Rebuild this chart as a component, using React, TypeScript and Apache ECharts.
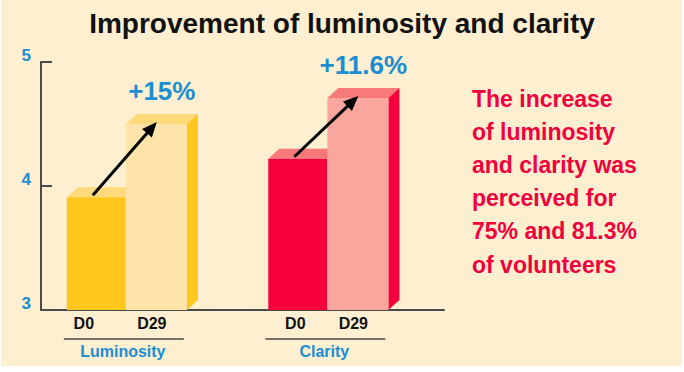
import React, { useEffect, useRef } from "react";
import * as echarts from "echarts";

const groups = ["Luminosity", "Clarity"];
const timepoints = ["D0", "D29"];
const d0Scores = [3.91, 4.22];
const d29Scores = [4.5, 4.71];
const changeLabels = ["+15%", "+11.6%"];
const yMin = 3;
const yMax = 5;
const yStep = 1;
const titleText = "Improvement of luminosity and clarity";
const noteLines = [
  "The increase",
  "of luminosity",
  "and clarity was",
  "perceived for",
  "75% and 81.3%",
  "of volunteers",
];

const FONT = "'Liberation Sans', Arial, sans-serif";
const BLUE = "#1B8DD1";
const AXIS = "#4a4a4a";
const palettes = [
  { front0: "#FFC61E", top: "#FFD97A", front1: "#FEE4A8", side: "#FFC61E" },
  { front0: "#F5003C", top: "#F87A78", front1: "#F9A69E", side: "#F5003C" },
];
const d0LabelShift = [-42, -32];

function txt(text: string, x: number, y: number, size: number, color: string) {
  return {
    type: "text",
    style: {
      text,
      x,
      y,
      align: "center",
      verticalAlign: "middle",
      textAlign: "center",
      textVerticalAlign: "middle",
      fontSize: size,
      fontWeight: "bold",
      fontFamily: FONT,
      fill: color,
    },
  };
}

export default function App() {
  const ref = useRef<HTMLDivElement>(null);
  useEffect(() => {
    if (!ref.current) return;
    const chart = echarts.init(ref.current, undefined, { renderer: "svg" });
    const data = groups.map((g, i) => [i, d0Scores[i], d29Scores[i]]);
    const renderItem = (params: any, api: any) => {
      const i = api.value(0);
      const v0 = api.value(1);
      const v1 = api.value(2);
      const p0 = api.coord([i, v0]);
      const p1 = api.coord([i, v1]);
      const base = api.coord([i, yMin])[1];
      const bw = api.size([1, 0])[0];
      const gx = p0[0] - bw * 0.079;
      const w0 = bw * 0.293;
      const w1 = bw * 0.303;
      const dx = 11;
      const dy = 10;
      const c = palettes[i];
      const y0 = p0[1];
      const y1 = p1[1];
      const children: any[] = [];
      // D0 bar
      children.push({
        type: "polygon",
        shape: { points: [[gx - w0, y0], [gx - w0 + dx, y0 - dy], [gx + dx, y0 - dy], [gx, y0]] },
        style: { fill: c.top },
      });
      children.push({ type: "rect", shape: { x: gx - w0, y: y0, width: w0, height: base - y0 }, style: { fill: c.front0 } });
      // D29 bar
      children.push({
        type: "polygon",
        shape: { points: [[gx, y1], [gx + dx, y1 - dy], [gx + w1 + dx, y1 - dy], [gx + w1, y1]] },
        style: { fill: c.top },
      });
      children.push({
        type: "polygon",
        shape: { points: [[gx + w1, y1], [gx + w1 + dx, y1 - dy], [gx + w1 + dx, base - dy], [gx + w1, base]] },
        style: { fill: c.side },
      });
      children.push({ type: "rect", shape: { x: gx, y: y1, width: w1, height: base - y1 }, style: { fill: c.front1 } });
      // arrow
      const sx = gx - 33, sy = y0 - 2;
      const ex = gx + 31, ey = y1 - 2;
      const len = Math.hypot(ex - sx, ey - sy);
      const ux = (ex - sx) / len, uy = (ey - sy) / len;
      const hl = 15, hw = 6.5;
      const bx = ex - ux * hl, by = ey - uy * hl;
      children.push({
        type: "line",
        shape: { x1: sx, y1: sy, x2: bx + ux * 2, y2: by + uy * 2 },
        style: { stroke: "#000", lineWidth: 3 },
      });
      children.push({
        type: "polygon",
        shape: { points: [[ex, ey], [bx - uy * hw, by + ux * hw], [bx + uy * hw, by - ux * hw]] },
        style: { fill: "#000" },
      });
      // change label
      children.push(txt(changeLabels[i], gx + 36, y1 - 33, 26, BLUE));
      // x labels
      children.push(txt(timepoints[0], gx + d0LabelShift[i], base + 13, 16, "#111"));
      children.push(txt(timepoints[1], gx + 26, base + 13, 16, "#111"));
      children.push({
        type: "line",
        shape: { x1: gx - 62, y1: base + 29, x2: gx + 58, y2: base + 29 },
        style: { stroke: AXIS, lineWidth: 1.5 },
      });
      children.push(txt(groups[i], gx - 3, base + 41, 16, BLUE));
      return { type: "group", children };
    };
    chart.setOption({
      animation: false,
      backgroundColor: "#ffffff",
      title: {
        text: titleText,
        left: "center",
        top: 4,
        textStyle: { fontSize: 28, fontWeight: "bold", color: "#111", fontFamily: FONT },
      },
      graphic: [
        {
          type: "rect",
          z: -100,
          silent: true,
          shape: { x: 1, y: 0, width: 681, height: 366 },
          style: { fill: "#FDEFD0" },
        },
        {
          type: "text",
          x: 472,
          y: 82,
          style: {
            text: noteLines.join("\n"),
            fontSize: 23,
            fontWeight: "bold",
            fontFamily: FONT,
            lineHeight: 33.2,
            fill: "#F0003C",
            textVerticalAlign: "top",
            verticalAlign: "top",
          },
        },
      ],
      grid: { left: 41, right: 240, top: 62, bottom: 62 },
      xAxis: {
        type: "category",
        data: groups,
        axisLabel: { show: false },
        axisTick: { show: false },
        axisLine: { lineStyle: { color: AXIS, width: 2 } },
      },
      yAxis: {
        type: "value",
        min: yMin,
        max: yMax,
        interval: yStep,
        splitLine: { show: false },
        axisLine: { show: true, lineStyle: { color: AXIS, width: 2 } },
        axisTick: { show: true, inside: true, length: 11, lineStyle: { color: AXIS, width: 2 } },
        axisLabel: {
          color: BLUE,
          fontSize: 17,
          fontWeight: "bold",
          fontFamily: FONT,
          margin: 10,
          verticalAlign: "bottom",
          lineHeight: 14,
        },
      },
      series: [
        {
          type: "custom",
          renderItem,
          data,
          clip: false,
          encode: { x: 0, y: [1, 2] },
        },
      ],
    });
    return () => chart.dispose();
  }, []);
  return <div ref={ref} style={{ position: "absolute", left: 0, top: 0, width: 684, height: 372 }} />;
}
